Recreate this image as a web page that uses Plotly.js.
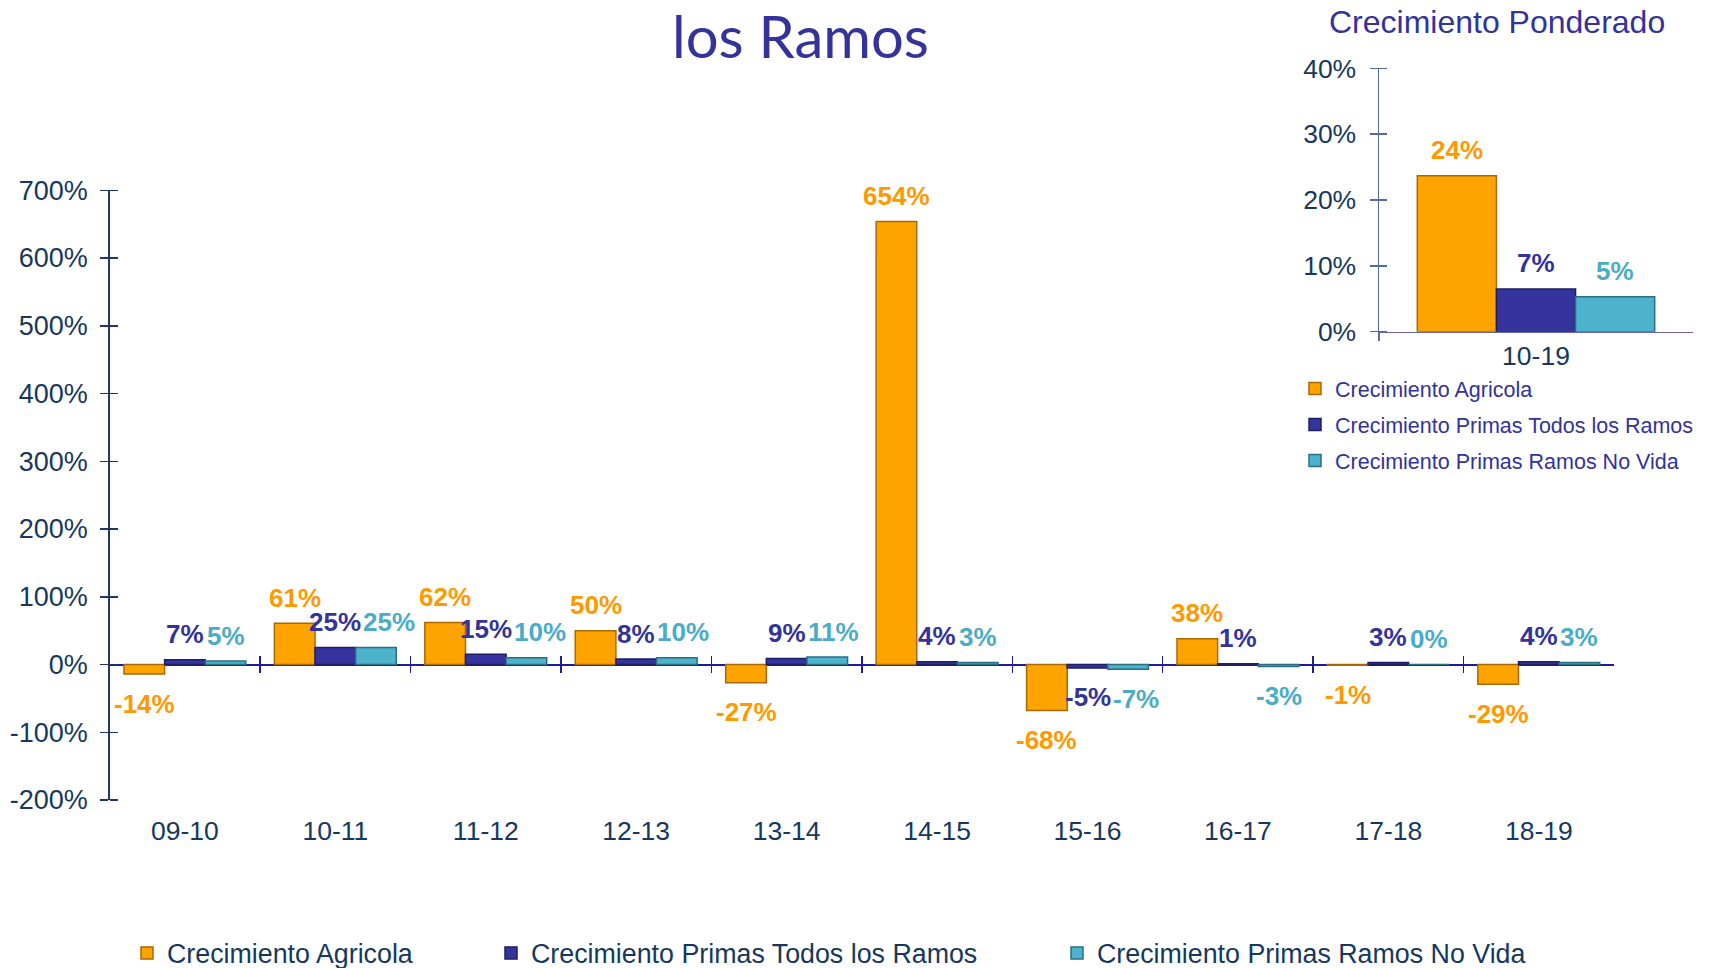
<!DOCTYPE html>
<html>
<head>
<meta charset="utf-8">
<script src="https://cdn.plot.ly/plotly-3.0.1.min.js"></script>
<style>
  html, body { margin: 0; padding: 0; background: #ffffff; overflow: hidden; }
  #chart { width: 1710px; height: 990px; }
</style>
</head>
<body>
<div id="chart"></div>
<script>
// ---- data ----
const categories = ['09-10', '10-11', '11-12', '12-13', '13-14', '14-15', '15-16', '16-17', '17-18', '18-19'];
const crecimientoAgricola = [-14, 61, 62, 50, -27, 654, -68, 38, -1, -29];
const crecimientoTodosRamos = [7, 25, 15, 8, 9, 4, -5, 1, 3, 4];
const crecimientoNoVida = [5, 25, 10, 10, 11, 3, -7, -3, 0, 3];

const ponderadoCategories = ['10-19'];
const ponderadoAgricola = [23.7];
const ponderadoTodosRamos = [6.5];
const ponderadoNoVida = [5.3];

const seriesNames = ['Crecimiento Agricola', 'Crecimiento Primas Todos los Ramos', 'Crecimiento Primas Ramos No Vida'];
const mainTickVals = [-200, -100, 0, 100, 200, 300, 400, 500, 600, 700];
const insetTickVals = [0, 10, 20, 30, 40];
const separatorVals = [0.5, 1.5, 2.5, 3.5, 4.5, 5.5, 6.5, 7.5, 8.5];

// ---- styles ----
const FONT = 'Liberation Sans, Arial, sans-serif';
const NAVY = '#17375E';
const PURPLE = '#333399';
const fills = ['#FFA300', '#34349C', '#4DB3CD'];
const edges = ['#A86A00', '#1E1E66', '#2B6F82'];
const labelColors = ['#FF9900', '#333399', '#4BACC6'];
const LABEL_SIZE = 26;

const mainW = 0.27, mainOff = [-0.405, -0.135, 0.135];
const insW = 0.252, insOff = [-0.378, -0.126, 0.126];

// paper is a bit taller than the 968px window so the bottom legend can sit low
const W = 1710, H = 990;
const px = v => v / W;
const py = v => 1 - v / H;
const mainL = 109.7, mainR = 1614, mainTop = 190.3, mainBot = 800;
const insL = 1379, insR = 1693, insTop = 68.3, insBot = 331.7;
const mainRange = [-200, 700], insRange = [0, 40];
const mainCatPx = (mainR - mainL) / categories.length;
const insCatPx = (insR - insL) / ponderadoCategories.length;
const mainYPx = (mainBot - mainTop) / (mainRange[1] - mainRange[0]);
const insYPx = (insBot - insTop) / (insRange[1] - insRange[0]);

const pct = v => (v < 0 ? '-' : '') + Math.abs(Math.round(v)) + '%';
const textW = t => { let w = 0; for (const c of t) w += c === '%' ? 0.889 : (c === '-' ? 0.333 : 0.556); return w * LABEL_SIZE; };

function bar(x, y, i, xa, ya, w, off, legendId) {
  return {
    type: 'bar', x: x, y: y, name: seriesNames[i],
    xaxis: xa, yaxis: ya, width: w, offset: off[i],
    marker: { color: fills[i], line: { color: edges[i], width: 1.5 } },
    textposition: 'none',
    legend: legendId, showlegend: true, legendgroup: legendId + 'g' + i,
    hoverinfo: 'skip'
  };
}

const mainSeries = [crecimientoAgricola, crecimientoTodosRamos, crecimientoNoVida];
const insetSeries = [ponderadoAgricola, ponderadoTodosRamos, ponderadoNoVida];

const data = [
  bar(categories, mainSeries[0], 0, 'x', 'y', mainW, mainOff, 'legend'),
  bar(categories, mainSeries[1], 1, 'x', 'y', mainW, mainOff, 'legend2'),
  bar(categories, mainSeries[2], 2, 'x', 'y', mainW, mainOff, 'legend3'),
  bar(ponderadoCategories, insetSeries[0], 0, 'x3', 'y3', insW, insOff, 'legend4'),
  bar(ponderadoCategories, insetSeries[1], 1, 'x3', 'y3', insW, insOff, 'legend4'),
  bar(ponderadoCategories, insetSeries[2], 2, 'x3', 'y3', insW, insOff, 'legend4'),
  { type: 'scatter', x: [], y: [], xaxis: 'x2', yaxis: 'y', showlegend: false, hoverinfo: 'skip' }
];

// value labels at each bar's end; a label that would collide with its left neighbour is nudged right
const annotations = [];
function addLabels(cats, series, xa, ya, w, off, catPx, yPx) {
  cats.forEach((cat, k) => {
    const labels = series.map((vals, s) => {
      const v = vals[k];
      const t = pct(v);
      const ys = v < 0 ? -29.5 : 25.5;
      return { v: v, t: t, s: s, w: textW(t), cx: (off[s] + w / 2) * catPx, ys: ys, up: v * yPx + ys };
    });
    for (let s = 1; s < labels.length; s++) {
      const a = labels[s - 1], b = labels[s];
      const need = (a.w + b.w) / 2 + 2;
      if (Math.abs(a.up - b.up) < 22 && b.cx - a.cx < need) b.cx = a.cx + need;
    }
    labels.forEach(L => {
      annotations.push({
        text: L.t, x: cat, y: L.v, xref: xa, yref: ya,
        xanchor: 'center', yanchor: 'middle', showarrow: false,
        xshift: L.cx, yshift: L.ys,
        font: { family: FONT, size: LABEL_SIZE, color: labelColors[L.s], weight: 'bold' }
      });
    });
  });
}
addLabels(categories, mainSeries, 'x', 'y', mainW, mainOff, mainCatPx, mainYPx);
addLabels(ponderadoCategories, insetSeries, 'x3', 'y3', insW, insOff, insCatPx, insYPx);

annotations.push(
  { text: 'los Ramos', xref: 'paper', yref: 'paper', x: px(800), y: py(35),
    xanchor: 'center', yanchor: 'middle', showarrow: false,
    font: { family: 'Lato, sans-serif', size: 58, color: PURPLE } },
  { text: 'Crecimiento Ponderado', xref: 'paper', yref: 'paper', x: px(1497), y: py(22),
    xanchor: 'center', yanchor: 'middle', showarrow: false,
    font: { family: FONT, size: 32, color: PURPLE } }
);

const legendBase = {
  orientation: 'h', yanchor: 'middle', xanchor: 'left',
  font: { family: FONT, size: 26.8, color: NAVY },
  bgcolor: 'rgba(0,0,0,0)', itemwidth: 30
};

const layout = {
  width: W, height: H,
  margin: { l: 0, r: 0, t: 0, b: 0, autoexpand: false },
  paper_bgcolor: '#ffffff', plot_bgcolor: 'rgba(0,0,0,0)',
  barmode: 'overlay',
  font: { family: FONT, color: NAVY },
  xaxis: {
    type: 'category', categoryarray: categories, range: [-0.5, 9.5],
    domain: [px(mainL), px(mainR)], anchor: 'y',
    showline: false, showgrid: false, zeroline: false,
    ticks: 'outside', ticklen: 7.5, tickcolor: 'rgba(0,0,0,0)',
    tickfont: { family: FONT, size: 26.5, color: NAVY }
  },
  xaxis2: {
    overlaying: 'x', anchor: 'free', position: py(664), side: 'bottom',
    type: 'linear', range: [-0.5, 9.5],
    tickmode: 'array', tickvals: separatorVals, showticklabels: false,
    ticks: 'outside', ticklen: 8, tickwidth: 1.5, tickcolor: '#1C1C9E',
    minor: { tickmode: 'array', tickvals: separatorVals, ticks: 'inside', ticklen: 8, tickwidth: 1.5, tickcolor: '#1C1C9E' },
    showline: false, showgrid: false, zeroline: false
  },
  yaxis: {
    range: mainRange, domain: [py(mainBot), py(mainTop)], anchor: 'x',
    tickmode: 'array', tickvals: mainTickVals, ticktext: mainTickVals.map(pct),
    showline: true, linecolor: '#1F3864', linewidth: 1.5,
    ticks: 'outside', ticklen: 8, tickwidth: 1.5, tickcolor: '#1F3864',
    ticklabelstandoff: 7,
    minor: { tickmode: 'array', tickvals: mainTickVals, ticks: 'inside', ticklen: 8, tickwidth: 1.5, tickcolor: '#1F3864' },
    showgrid: false, zeroline: true, zerolinecolor: '#1C1C9E', zerolinewidth: 2,
    tickfont: { family: FONT, size: 27, color: NAVY }
  },
  xaxis3: {
    type: 'category', categoryarray: ponderadoCategories, range: [-0.5, 0.5],
    domain: [px(insL), px(insR)], anchor: 'y3',
    showline: true, linecolor: '#6666B3', linewidth: 1.5,
    ticks: 'outside', tickson: 'boundaries', ticklen: 8, tickwidth: 1.5, tickcolor: '#6666B3',
    ticklabelstandoff: 13.5,
    showgrid: false, zeroline: false,
    tickfont: { family: FONT, size: 26.5, color: NAVY }
  },
  yaxis3: {
    range: insRange, domain: [py(insBot), py(insTop)], anchor: 'x3',
    tickmode: 'array', tickvals: insetTickVals, ticktext: insetTickVals.map(pct),
    showline: true, linecolor: '#4F6E9E', linewidth: 1.5,
    ticks: 'outside', ticklen: 8, tickwidth: 1.5, tickcolor: '#4F6E9E',
    ticklabelstandoff: 8,
    minor: { tickmode: 'array', tickvals: insetTickVals, ticks: 'inside', ticklen: 8, tickwidth: 1.5, tickcolor: '#4F6E9E' },
    showgrid: false, zeroline: false,
    tickfont: { family: FONT, size: 26.5, color: NAVY }
  },
  legend: Object.assign({}, legendBase, { x: px(127), y: py(953) }),
  legend2: Object.assign({}, legendBase, { x: px(491), y: py(953) }),
  legend3: Object.assign({}, legendBase, { x: px(1057), y: py(953) }),
  legend4: {
    orientation: 'v', yanchor: 'top', xanchor: 'left', x: px(1295), y: py(368),
    font: { family: FONT, size: 21.5, color: PURPLE },
    bgcolor: 'rgba(0,0,0,0)', itemwidth: 30, tracegroupgap: 5
  },
  annotations: annotations
};

Plotly.newPlot('chart', data, layout, { displayModeBar: false, staticPlot: true });
</script>
</body>
</html>
